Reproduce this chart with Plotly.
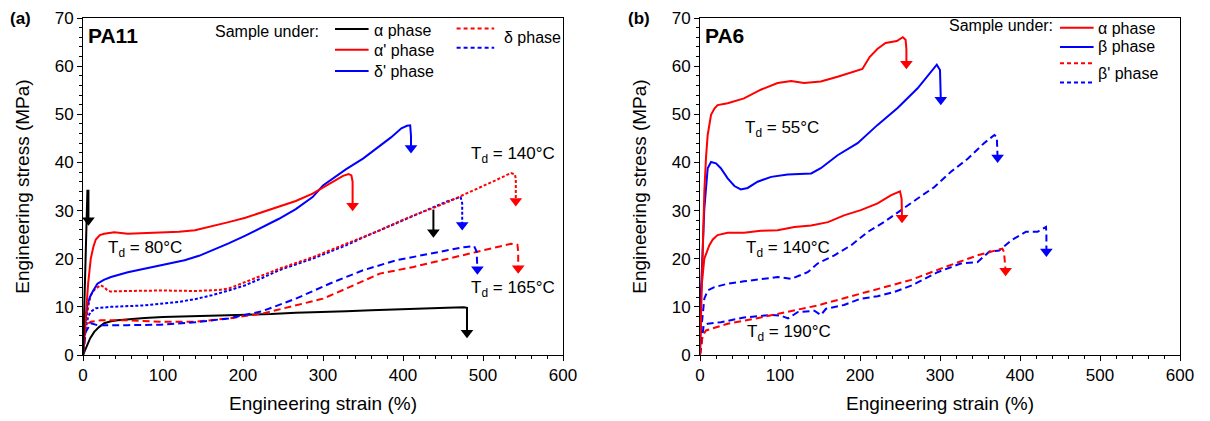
import plotly.graph_objects as go

# ---------------- Panel (a): PA11 ----------------
a_alpha80_x = [0, 1.5, 3, 4.5, 5.5, 6.8, 6.8]
a_alpha80_y = [0, 9, 19, 28, 34.1, 34.1, 28.0]

a_alphap80_x = [0, 3.4, 6.5, 9.7, 13, 16, 21, 26.5, 39, 56, 77, 98, 120, 140, 161, 182, 203, 224,
                245, 266, 287, 300, 315, 325, 332, 335.5, 337, 337]
a_alphap80_y = [0, 7.6, 15, 20, 22.5, 24, 24.9, 25.2, 25.5, 25.2, 25.3, 25.5, 25.6, 25.9, 26.7, 27.6,
                28.5, 29.7, 30.8, 32, 33.5, 34.8, 36.2, 37.2, 37.6, 37.3, 36, 31]

a_deltap80_x = [0, 2.5, 5.5, 8.5, 11.8, 18, 26, 35, 56, 77, 98, 127, 145, 161, 182, 203, 224, 245,
                266, 287, 300, 329, 350, 371, 385, 398, 405, 409, 410, 410]
a_deltap80_y = [0, 6, 10.3, 12, 13.1, 14.8, 15.6, 16.2, 17.2, 17.9, 18.6, 19.7, 20.6, 21.7, 23.2,
                24.8, 26.5, 28.3, 30.3, 32.8, 35.2, 38.6, 40.8, 43.4, 45.2, 47.1, 47.6, 47.7, 45.5, 43]

a_alpha140_x = [438, 438]
a_alpha140_y = [30.2, 25.5]

a_delta140_x = [0, 3.4, 6.5, 9.7, 13, 16, 22, 26.5, 30.7, 34, 56, 98, 140, 170, 182, 203, 224, 245,
                266, 287, 308, 329, 350, 371, 392, 413, 434, 455, 476, 497, 516, 535, 540, 541, 541]
a_delta140_y = [0, 6.2, 10, 12.4, 13.3, 13.8, 14.5, 14.1, 13.4, 13.2, 13.3, 13.4, 13.3, 13.5, 13.8,
                15.2, 16.5, 17.9, 19.1, 20.3, 21.7, 23.1, 24.5, 25.9, 27.5, 29, 30.3, 31.7, 33.3,
                34.8, 36.3, 37.8, 37.5, 36.5, 32]

a_deltap140_x = [0, 3.4, 6.5, 9.7, 16, 35, 77, 119, 140, 161, 182, 203, 224, 245, 266, 287, 308,
                 329, 350, 371, 392, 413, 434, 455, 472, 474, 474]
a_deltap140_y = [0, 5.5, 8, 9, 9.7, 10, 10.3, 11, 11.6, 12.4, 13.4, 14.5, 16, 17.6, 18.8, 20, 21.4,
                 22.8, 24.4, 25.9, 27.5, 29, 30.5, 31.9, 32.8, 31.5, 27]

a_alpha165_x = [0, 2.5, 5.5, 9, 14, 20, 26.5, 35, 43, 60, 77, 100, 140, 170, 203, 235, 266, 300,
                329, 360, 392, 415, 434, 455, 476, 480, 480]
a_alpha165_y = [0, 1, 2, 3.5, 4.8, 5.8, 6.6, 7, 7.2, 7.5, 7.7, 7.9, 8.1, 8.2, 8.3, 8.5, 8.8, 8.9,
                9.1, 9.3, 9.5, 9.6, 9.8, 9.8, 9.9, 9.8, 4.6]

a_deltap165_x = [0, 3.4, 9.7, 18, 56, 98, 140, 182, 224, 266, 308, 350, 392, 434, 476, 489, 492, 493]
a_deltap165_y = [0, 4.8, 6.6, 6.2, 6.2, 6.3, 6.8, 7.6, 9.1, 11.7, 14.8, 17.6, 19.7, 21, 22.4, 22.6,
                 21.5, 17.8]

a_delta165_x = [0, 3.4, 9.7, 22, 56, 98, 140, 182, 224, 266, 300, 329, 371, 413, 455, 497, 535,
                543, 544, 544]
a_delta165_y = [0, 6.2, 6.9, 7.2, 7.2, 6.9, 6.9, 7.6, 8.6, 10.3, 11.7, 13.8, 16.9, 18.3, 20, 21.7,
                23.1, 22.9, 21.5, 18.0]

# ---------------- Panel (b): PA6 ----------------
b_alpha55_x = [0, 2, 5.4, 7.5, 9.6, 13.8, 18, 22, 34.6, 55, 76, 97, 114, 130, 151, 172, 197, 203,
               212, 222, 232, 246, 253.5, 257, 258, 258]
b_alpha55_y = [0, 13, 33.9, 41, 45.7, 49.9, 51.2, 51.9, 52.3, 53.3, 55.1, 56.5, 56.9, 56.5, 56.8,
               57.8, 59.2, 59.4, 61.9, 63.6, 64.8, 65.2, 66, 65.5, 63.5, 60.5]

b_beta55_x = [0, 1.2, 5.4, 9.6, 13.8, 20, 26, 34.6, 43, 51, 59.6, 72, 89, 109.6, 139, 151, 172,
              197, 222, 247, 272, 289, 296, 300, 301, 301]
b_beta55_y = [0, 13, 30.4, 38.8, 40.1, 39.8, 38.8, 36.7, 35.1, 34.4, 34.7, 36, 37, 37.5, 37.7,
              38.8, 41.5, 44, 47.8, 51.3, 55.4, 58.9, 60.3, 59.2, 56, 53]

b_alpha140_x = [0, 1.2, 5.4, 11.7, 16, 22, 34.6, 55, 76, 97, 118, 139, 160, 180, 201, 222, 239,
                250, 252, 252.5]
b_alpha140_y = [0, 13, 20, 22.8, 24, 24.9, 25.4, 25.4, 25.8, 25.9, 26.6, 26.9, 27.6, 29, 30.1,
                31.5, 33.2, 34, 32.5, 28.5]

b_betap140_x = [0, 2, 5.4, 9.6, 18, 34.6, 55, 76, 97, 114, 134.6, 147, 168, 189, 210, 230, 251,
                272, 293, 314, 335, 355, 368, 371, 372]
b_betap140_y = [0, 6.1, 11.7, 13.4, 14.1, 14.8, 15.3, 15.8, 16.2, 15.8, 17.2, 19, 20.7, 22.8,
                25.6, 27.6, 30.1, 32.5, 34.9, 38.1, 40.8, 44, 45.7, 45.3, 41]

b_alpha190_x = [0, 1.2, 3.3, 7.5, 34.6, 76, 118, 147, 180, 222, 264, 305, 347, 378, 380, 382]
b_alpha190_y = [0, 1.9, 4, 5.1, 6.5, 7.8, 9.2, 10.3, 11.8, 13.7, 15.6, 18.2, 20.7, 22.1, 21.4, 17.5]

b_betap190_x = [0, 1.2, 4.6, 9.6, 26, 55, 89, 101, 110, 122, 143, 151, 157.5, 180, 201, 222, 243,
                264, 297, 326, 347, 361.7, 374, 389, 407.5, 422, 432.5, 433, 433]
b_betap190_y = [0, 1.9, 6.1, 6.5, 6.8, 7.8, 8.3, 8.2, 7.6, 8.9, 9.2, 8.3, 9.6, 10.4, 11.7, 12.2,
                13.1, 14.4, 17.2, 19, 19.3, 21.5, 21.7, 23.8, 25.6, 25.6, 26.6, 25, 21.5]

# tick values
x_ticks = [0, 100, 200, 300, 400, 500, 600]
y_ticks = [0, 10, 20, 30, 40, 50, 60, 70]

RED = "#ff0000"
BLUE = "#0000ff"
BLACK = "#000000"
DOT = "3px,2px"
DASH = "7px,4px"
FONT = "Arial, 'Liberation Sans', sans-serif"

fig = go.Figure()


def curve(x, y, color, dash, xa, ya):
    fig.add_trace(go.Scatter(x=x, y=y, mode="lines", line=dict(color=color, width=2, dash=dash),
                             xaxis=xa, yaxis=ya, showlegend=False, hoverinfo="skip"))
    fig.add_trace(go.Scatter(x=[x[-1]], y=[y[-1]], mode="markers",
                             marker=dict(symbol="triangle-down", size=11, color=color,
                                         line=dict(width=0)),
                             xaxis=xa, yaxis=ya, showlegend=False, hoverinfo="skip"))


# panel a
curve(a_alpha165_x, a_alpha165_y, BLACK, "solid", "x", "y")
curve(a_delta165_x, a_delta165_y, RED, DASH, "x", "y")
curve(a_deltap165_x, a_deltap165_y, BLUE, DASH, "x", "y")
curve(a_alpha140_x, a_alpha140_y, BLACK, "solid", "x", "y")
curve(a_deltap140_x, a_deltap140_y, BLUE, DOT, "x", "y")
curve(a_delta140_x, a_delta140_y, RED, DOT, "x", "y")
curve(a_deltap80_x, a_deltap80_y, BLUE, "solid", "x", "y")
curve(a_alphap80_x, a_alphap80_y, RED, "solid", "x", "y")
curve(a_alpha80_x, a_alpha80_y, BLACK, "solid", "x", "y")

# panel b
curve(b_betap190_x, b_betap190_y, BLUE, DASH, "x2", "y2")
curve(b_alpha190_x, b_alpha190_y, RED, DASH, "x2", "y2")
curve(b_betap140_x, b_betap140_y, BLUE, DASH, "x2", "y2")
curve(b_alpha140_x, b_alpha140_y, RED, "solid", "x2", "y2")
curve(b_beta55_x, b_beta55_y, BLUE, "solid", "x2", "y2")
curve(b_alpha55_x, b_alpha55_y, RED, "solid", "x2", "y2")

W, H = 1210, 421
ax_common = dict(showline=True, linecolor="black", linewidth=1, mirror=True, showgrid=False,
                 zeroline=False, ticks="outside", ticklen=5, tickcolor="black", automargin=False,
                 tickfont=dict(family=FONT, size=17, color="black"))
xa = dict(ax_common, range=[0, 600], tickvals=x_ticks,
          minor=dict(dtick=20, ticks="outside", ticklen=3, tickcolor="black"),
          title=dict(text="Engineering strain (%)", font=dict(family=FONT, size=19, color="black"),
                     standoff=12))
ya = dict(ax_common, range=[0, 70], tickvals=y_ticks,
          minor=dict(dtick=2, ticks="outside", ticklen=3, tickcolor="black"),
          title=dict(text="Engineering stress (MPa)", font=dict(family=FONT, size=19, color="black"),
                     standoff=20))

fig.update_layout(
    width=W, height=H, margin=dict(l=0, r=0, t=0, b=0, autoexpand=False),
    paper_bgcolor="white", plot_bgcolor="white",
    xaxis=dict(xa, domain=[83 / W, 563 / W], anchor="y"),
    yaxis=dict(ya, domain=[(H - 355) / H, (H - 18) / H], anchor="x"),
    xaxis2=dict(xa, domain=[700 / W, 1180 / W], anchor="y2"),
    yaxis2=dict(ya, domain=[(H - 355) / H, (H - 18) / H], anchor="x2"),
    font=dict(family=FONT, color="black"),
)

ann = []
shapes = []


def text(x, y, s, xr, yr, size=15, xanchor="center", bold=False):
    ann.append(dict(x=x, y=y, xref=xr, yref=yr, text=("<b>%s</b>" % s) if bold else s,
                    showarrow=False, xanchor=xanchor, yanchor="middle",
                    font=dict(family=FONT, size=size, color="black")))


def legline(x0, x1, y, color, dash, xr, yr):
    shapes.append(dict(type="line", x0=x0, x1=x1, y0=y, y1=y, xref=xr, yref=yr,
                       line=dict(color=color, width=2, dash=dash)))


# panel labels
text(20 / W, (H - 18) / H, "(a)", "paper", "paper", size=17, bold=True)
text(639 / W, (H - 18) / H, "(b)", "paper", "paper", size=17, bold=True)
text(4, 66.3, "PA11", "x", "y", size=21, xanchor="left", bold=True)
text(4, 66.3, "PA6", "x2", "y2", size=21, xanchor="left", bold=True)

# panel a legend
text(297.5, 67.3, "Sample under:", "x", "y", size=16, xanchor="right")
legline(315, 357, 67.7, BLACK, "solid", "x", "y")
legline(315, 357, 63.4, RED, "solid", "x", "y")
legline(315, 357, 59.0, BLUE, "solid", "x", "y")
text(361, 67.5, "α phase", "x", "y", size=16, xanchor="left")
text(361, 63.2, "α' phase", "x", "y", size=16, xanchor="left")
text(361, 58.8, "δ' phase", "x", "y", size=16, xanchor="left")
legline(467, 514, 67.8, RED, "4px,3px", "x", "y")
legline(467, 514, 63.8, BLUE, "4px,3px", "x", "y")
text(524, 66.0, "δ phase", "x", "y", size=16, xanchor="left")

# panel b legend
text(444, 68.4, "Sample under:", "x2", "y2", size=16, xanchor="right")
legline(450, 492, 68.0, RED, "solid", "x2", "y2")
legline(450, 492, 64.0, BLUE, "solid", "x2", "y2")
legline(450, 492, 60.6, RED, "4px,3px", "x2", "y2")
legline(450, 492, 56.6, BLUE, "4px,3px", "x2", "y2")
text(495, 67.9, "α phase", "x2", "y2", size=16, xanchor="left")
text(495, 64.1, "β phase", "x2", "y2", size=16, xanchor="left")
text(495, 58.4, "β' phase", "x2", "y2", size=16, xanchor="left")

# Td labels
text(77, 22.0, "T<sub>d</sub> = 80°C", "x", "y", size=17)
text(538, 41.5, "T<sub>d</sub> = 140°C", "x", "y", size=17)
text(538, 13.8, "T<sub>d</sub> = 165°C", "x", "y", size=17)
text(103, 47.0, "T<sub>d</sub> = 55°C", "x2", "y2", size=17)
text(110, 22.0, "T<sub>d</sub> = 140°C", "x2", "y2", size=17)
text(111, 4.6, "T<sub>d</sub> = 190°C", "x2", "y2", size=17)

fig.update_layout(annotations=ann, shapes=shapes)
fig.write_html("out.html", config={"displayModeBar": False},
               post_script="document.body.style.margin='0';")
